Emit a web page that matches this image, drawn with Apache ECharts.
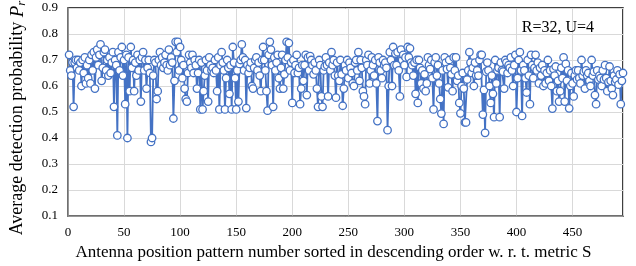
<!DOCTYPE html>
<html>
<head>
<meta charset="utf-8">
<script src="https://cdn.jsdelivr.net/npm/echarts@6/dist/echarts.min.js"></script>
<style>
	html, body { margin: 0; padding: 0; background: #fff; }
	#chart { width: 636px; height: 266px; }
</style>
</head>
<body>
<div id="chart"></div>
<script>
	// detection probability per antenna position pattern (1..495)
	var prPart1 = [
		0.72, 0.66, 0.64, 0.69, 0.52, 0.69, 0.70, 0.67, 0.70, 0.66, 0.69, 0.60, 0.70, 0.65, 0.71, 0.61, 0.68, 0.63, 0.70, 0.61,
		0.72, 0.66, 0.73, 0.59, 0.71, 0.74, 0.68, 0.72, 0.76, 0.62, 0.67, 0.73, 0.74, 0.66, 0.70, 0.64, 0.71, 0.65, 0.69, 0.73,
		0.52, 0.70, 0.68, 0.41, 0.73, 0.66, 0.71, 0.75, 0.64, 0.70, 0.53, 0.72, 0.40, 0.71, 0.58, 0.75, 0.67, 0.70, 0.58, 0.69,
		0.64, 0.72, 0.66, 0.70, 0.54, 0.71, 0.73, 0.66, 0.70, 0.59, 0.67, 0.70, 0.65, 0.385, 0.40, 0.64, 0.70, 0.69, 0.55, 0.58,
		0.70, 0.73, 0.68, 0.71, 0.67, 0.69, 0.72, 0.68, 0.66, 0.74, 0.68, 0.71, 0.69, 0.475, 0.62, 0.77, 0.73, 0.77, 0.66, 0.75
	]
	var prPart2 = [
		0.70, 0.63, 0.68, 0.59, 0.55, 0.54, 0.65, 0.72, 0.69, 0.67, 0.72, 0.65, 0.70, 0.68, 0.59, 0.65, 0.70, 0.51, 0.69, 0.51,
		0.58, 0.64, 0.70, 0.66, 0.54, 0.71, 0.68, 0.66, 0.67, 0.65, 0.70, 0.66, 0.58, 0.71, 0.51, 0.68, 0.73, 0.69, 0.66, 0.51,
		0.63, 0.70, 0.67, 0.57, 0.68, 0.51, 0.75, 0.69, 0.63, 0.51, 0.66, 0.54, 0.685, 0.70, 0.76, 0.71, 0.66, 0.70, 0.515, 0.68,
		0.65, 0.67, 0.69, 0.60, 0.59, 0.67, 0.70, 0.71, 0.66, 0.69, 0.64, 0.58, 0.70, 0.75, 0.70, 0.66, 0.58, 0.505, 0.72, 0.77,
		0.74, 0.68, 0.52, 0.71, 0.66, 0.69, 0.72, 0.63, 0.59, 0.67, 0.72, 0.59, 0.645, 0.70, 0.77, 0.71, 0.765, 0.66, 0.69, 0.535
	]
	var prPart3 = [
		0.70, 0.65, 0.68, 0.72, 0.65, 0.67, 0.53, 0.59, 0.68, 0.62, 0.68, 0.72, 0.565, 0.71, 0.66, 0.715, 0.70, 0.68, 0.645, 0.69,
		0.66, 0.59, 0.52, 0.70, 0.68, 0.56, 0.52, 0.66, 0.675, 0.71, 0.68, 0.56, 0.69, 0.66, 0.73, 0.68, 0.70, 0.64, 0.555, 0.69,
		0.64, 0.62, 0.70, 0.645, 0.524, 0.59, 0.68, 0.66, 0.70, 0.63, 0.69, 0.67, 0.65, 0.61, 0.60, 0.69, 0.70, 0.66, 0.73, 0.62,
		0.70, 0.67, 0.58, 0.56, 0.53, 0.70, 0.68, 0.72, 0.61, 0.66, 0.71, 0.68, 0.64, 0.70, 0.61, 0.465, 0.71, 0.69, 0.66, 0.63,
		0.70, 0.68, 0.69, 0.67, 0.43, 0.60, 0.73, 0.70, 0.60, 0.75, 0.68, 0.725, 0.68, 0.73, 0.66, 0.56, 0.74, 0.70, 0.72, 0.68
	]
	var prPart4 = [
		0.71, 0.635, 0.75, 0.71, 0.745, 0.69, 0.68, 0.64, 0.69, 0.57, 0.70, 0.535, 0.70, 0.67, 0.61, 0.66, 0.59, 0.645, 0.58, 0.61,
		0.71, 0.68, 0.665, 0.70, 0.63, 0.51, 0.69, 0.71, 0.64, 0.68, 0.61, 0.55, 0.494, 0.66, 0.454, 0.71, 0.69, 0.665, 0.595, 0.70,
		0.67, 0.645, 0.58, 0.71, 0.66, 0.71, 0.62, 0.64, 0.535, 0.495, 0.60, 0.65, 0.59, 0.46, 0.46, 0.625, 0.66, 0.73, 0.69, 0.65,
		0.67, 0.60, 0.69, 0.64, 0.66, 0.64, 0.70, 0.72, 0.72, 0.49, 0.585, 0.42, 0.655, 0.69, 0.66, 0.60, 0.535, 0.64, 0.57, 0.48,
		0.70, 0.61, 0.66, 0.67, 0.48, 0.69, 0.66, 0.655, 0.59, 0.70, 0.69, 0.65, 0.68, 0.67, 0.71, 0.66, 0.60, 0.68, 0.72, 0.50
	]
	var prPart5 = [
		0.63, 0.70, 0.73, 0.66, 0.485, 0.68, 0.66, 0.63, 0.575, 0.70, 0.64, 0.53, 0.72, 0.68, 0.63, 0.67, 0.72, 0.66, 0.69, 0.61,
		0.67, 0.64, 0.68, 0.60, 0.66, 0.61, 0.65, 0.70, 0.62, 0.66, 0.60, 0.513, 0.665, 0.64, 0.675, 0.58, 0.62, 0.54, 0.58, 0.67,
		0.63, 0.71, 0.54, 0.685, 0.62, 0.66, 0.514, 0.60, 0.65, 0.61, 0.56, 0.64, 0.66, 0.625, 0.66, 0.63, 0.61, 0.70, 0.64, 0.655,
		0.59, 0.66, 0.64, 0.65, 0.62, 0.60, 0.70, 0.64, 0.655, 0.565, 0.53, 0.66, 0.625, 0.64, 0.63, 0.60, 0.66, 0.625, 0.68, 0.63,
		0.58, 0.615, 0.675, 0.62, 0.59, 0.565, 0.64, 0.615, 0.625, 0.66, 0.605, 0.645, 0.53, 0.62, 0.65
	]
	var xMax = 495
	var xStep = 50
	var yTicks = [0.1, 0.2, 0.3, 0.4, 0.5, 0.6, 0.7, 0.8, 0.9]
	var caseLabel = 'R=32, U=4'

	var probs = prPart1.concat(prPart2, prPart3, prPart4, prPart5)
	var points = probs.map(function (v, i) {
		return [i + 1, v]
	})

	var serif = '"Liberation Serif", "Times New Roman", serif'
	var blue = '#4472c4'

	var chart = echarts.init(document.getElementById('chart'))
	var option = {
		animation: false,
		title: {
			text: caseLabel,
			right: 37,
			top: 15,
			textStyle: {
				fontFamily: serif,
				fontSize: 16,
				fontWeight: 'normal',
				color: '#000'
			}
		},
		grid: {
			left: 68,
			right: 13,
			top: 8,
			bottom: 45,
			show: true,
			borderColor: '#000',
			borderWidth: 1.5
		},
		xAxis: {
			type: 'value',
			min: 0,
			max: xMax,
			interval: xStep,
			name: 'Antenna position pattern number sorted in descending order w. r. t. metric S',
			nameLocation: 'middle',
			nameGap: 28,
			nameTextStyle: {
				fontFamily: serif,
				fontSize: 17,
				color: '#000',
				padding: [0, 24, 0, 0]
			},
			axisLine: {
				lineStyle: { color: '#808080', width: 1.5 }
			},
			axisTick: { show: false },
			axisLabel: {
				fontFamily: serif,
				fontSize: 13,
				color: '#000',
				margin: 10,
				showMaxLabel: false,
				formatter: function (v) {
					return v % xStep === 0 ? String(v) : ''
				}
			},
			splitLine: {
				show: true,
				lineStyle: { color: '#d9d9d9', width: 1 }
			}
		},
		yAxis: {
			type: 'value',
			min: yTicks[0],
			max: yTicks[yTicks.length - 1],
			interval: 0.1,
			name: 'Average detection probability {i|P}{s|r}',
			nameLocation: 'middle',
			nameGap: 40,
			nameRotate: 90,
			nameTextStyle: {
				fontFamily: serif,
				fontSize: 18,
				color: '#000',
				padding: [0, 12, 0, 0],
				rich: {
					i: { fontFamily: serif, fontSize: 19, fontStyle: 'italic', color: '#000' },
					s: { fontFamily: serif, fontSize: 13, fontStyle: 'italic', color: '#000', padding: [8, 0, 0, 0] }
				}
			},
			axisLine: {
				show: true,
				lineStyle: { color: '#808080', width: 1.5 }
			},
			axisTick: { show: false },
			axisLabel: {
				fontFamily: serif,
				fontSize: 13,
				color: '#000',
				margin: 10,
				formatter: function (v) {
					return v.toFixed(1)
				}
			},
			splitLine: {
				lineStyle: { color: '#d9d9d9', width: 1 }
			}
		},
		series: [{
			type: 'line',
			data: points,
			symbol: 'circle',
			symbolSize: 7.5,
			showAllSymbol: true,
			lineStyle: { color: blue, width: 1.8 },
			itemStyle: { color: '#fff', borderColor: blue, borderWidth: 1.3 }
		}]
	}
	chart.setOption(option)
</script>
</body>
</html>
